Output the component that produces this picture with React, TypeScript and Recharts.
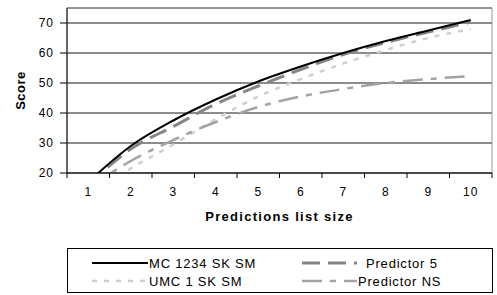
import {
  LineChart,
  Line,
  XAxis,
  YAxis,
  CartesianGrid,
  Legend,
  Label,
  ReferenceArea,
} from "recharts";

// values
const categories = [1, 2, 3, 4, 5, 6, 7, 8, 9, 10];
const mc1234 = [17, 29, 37.5, 44.5, 50.5, 55.5, 60, 64, 67.5, 71];
const predictor5 = [16, 28, 35.5, 43, 49, 54.5, 59.5, 63.5, 67, 70.3];
const umc1 = [12, 21.5, 29.5, 38, 45.5, 51.3, 56.5, 61, 65, 68];
const predictorNS = [15, 24, 31, 37, 42, 45.5, 48, 50, 51.3, 52.3];
const yTicks = [20, 30, 40, 50, 60, 70];

const data = categories.map((c, i) => ({
  x: c,
  mc: mc1234[i],
  p5: predictor5[i],
  umc: umc1[i],
  ns: predictorNS[i],
}));

// tick marks sit between categories, labels on the categories
const xTicks = [0.5, ...categories.flatMap((c) => [c, c + 0.5])];

const SERIES = {
  mc: { name: "MC 1234 SK SM", color: "#000", dash: undefined, width: 2 },
  p5: { name: "Predictor 5", color: "#858585", dash: "18 8", width: 3 },
  umc: { name: "UMC 1 SK SM", color: "#cfcfcf", dash: "5 7", width: 2.5 },
  ns: { name: "Predictor NS", color: "#a3a3a3", dash: "20 8 6 8", width: 2.5 },
} as const;

const FONT = "'Liberation Sans', Arial, sans-serif";

function XTick({ x, y, payload }: any) {
  const v = payload.value as number;
  if (v % 1 !== 0) {
    return <line x1={x} x2={x} y1={y - 5} y2={y} stroke="#000" />;
  }
  return (
    <text x={x} y={y + 18} textAnchor="middle" fontSize={12} letterSpacing={1} fill="#000">
      {v}
    </text>
  );
}

function LegendItem({ k, left, top }: { k: keyof typeof SERIES; left: number; top: number }) {
  const s = SERIES[k];
  const w = k === "p5" || k === "ns" ? 55 : 56;
  return (
    <div style={{ position: "absolute", left, top, height: 18, display: "flex", alignItems: "center" }}>
      <svg width={w} height={6} style={{ display: "block" }}>
        <line x1={0} x2={w} y1={3} y2={3} stroke={s.color} strokeWidth={s.width} strokeDasharray={s.dash} />
      </svg>
      <span style={{ marginLeft: k === "p5" ? 9 : 1, fontSize: 13, letterSpacing: 0.8, color: "#000" }}>
        {s.name}
      </span>
    </div>
  );
}

function LegendBox() {
  return (
    <div
      style={{
        position: "relative",
        width: 426,
        height: 45,
        boxSizing: "border-box",
        border: "1px solid #000",
        fontFamily: FONT,
      }}
    >
      <LegendItem k="mc" left={24} top={5} />
      <LegendItem k="p5" left={234} top={5} />
      <LegendItem k="umc" left={24} top={23} />
      <LegendItem k="ns" left={234} top={23} />
    </div>
  );
}

export default function App() {
  return (
    <div style={{ position: "absolute", left: 0, top: 0, background: "#fff", fontFamily: FONT }}>
      <LineChart width={497} height={295} data={data} margin={{ top: 8, right: 5, bottom: 27, left: 0 }}>
        <ReferenceArea y1={20} y2={75} fill="none" stroke="#9a9a9a" ifOverflow="visible" />
        <CartesianGrid vertical={false} stroke="#1a1a1a" />
        <XAxis
          dataKey="x"
          type="number"
          domain={[0.5, 10.5]}
          ticks={xTicks}
          interval={0}
          height={50}
          axisLine={{ stroke: "#000" }}
          tickLine={false}
          tickSize={5}
          tickMargin={0}
          tick={<XTick />}
        >
          <Label
            value="Predictions list size"
            position="insideBottom"
            offset={2}
            style={{ fontSize: 13, fontWeight: "bold", letterSpacing: 1.3, fill: "#000" }}
          />
        </XAxis>
        <YAxis
          domain={[20, 75]}
          ticks={yTicks}
          allowDataOverflow
          width={67}
          axisLine={{ stroke: "#000" }}
          tickLine={{ stroke: "#000" }}
          tickSize={7}
          tickMargin={6}
          tick={{ fontSize: 12, fill: "#000", letterSpacing: 1 }}
        >
          <Label
            content={({ viewBox }: any) => {
              const cx = viewBox.x + 20;
              const cy = viewBox.y + viewBox.height / 2;
              return (
                <text
                  x={cx}
                  y={cy}
                  transform={`rotate(-90, ${cx}, ${cy})`}
                  textAnchor="middle"
                  dominantBaseline="central"
                  fontSize={13}
                  fontWeight="bold"
                  letterSpacing={0.5}
                  fill="#000"
                >
                  Score
                </text>
              );
            }}
          />
        </YAxis>
        <Line
          type="monotone"
          dataKey="umc"
          name={SERIES.umc.name}
          stroke={SERIES.umc.color}
          strokeWidth={SERIES.umc.width}
          strokeDasharray={SERIES.umc.dash}
          dot={false}
          activeDot={false}
          isAnimationActive={false}
        />
        <Line
          type="monotone"
          dataKey="ns"
          name={SERIES.ns.name}
          stroke={SERIES.ns.color}
          strokeWidth={SERIES.ns.width}
          strokeDasharray={SERIES.ns.dash}
          dot={false}
          activeDot={false}
          isAnimationActive={false}
        />
        <Line
          type="monotone"
          dataKey="p5"
          name={SERIES.p5.name}
          stroke={SERIES.p5.color}
          strokeWidth={SERIES.p5.width}
          strokeDasharray={SERIES.p5.dash}
          dot={false}
          activeDot={false}
          isAnimationActive={false}
        />
        <Line
          type="monotone"
          dataKey="mc"
          name={SERIES.mc.name}
          stroke={SERIES.mc.color}
          strokeWidth={SERIES.mc.width}
          dot={false}
          activeDot={false}
          isAnimationActive={false}
        />
        <Legend
          verticalAlign="bottom"
          content={() => <LegendBox />}
          wrapperStyle={{ left: 67, bottom: 2, width: 426, height: 45 }}
        />
      </LineChart>
    </div>
  );
}
